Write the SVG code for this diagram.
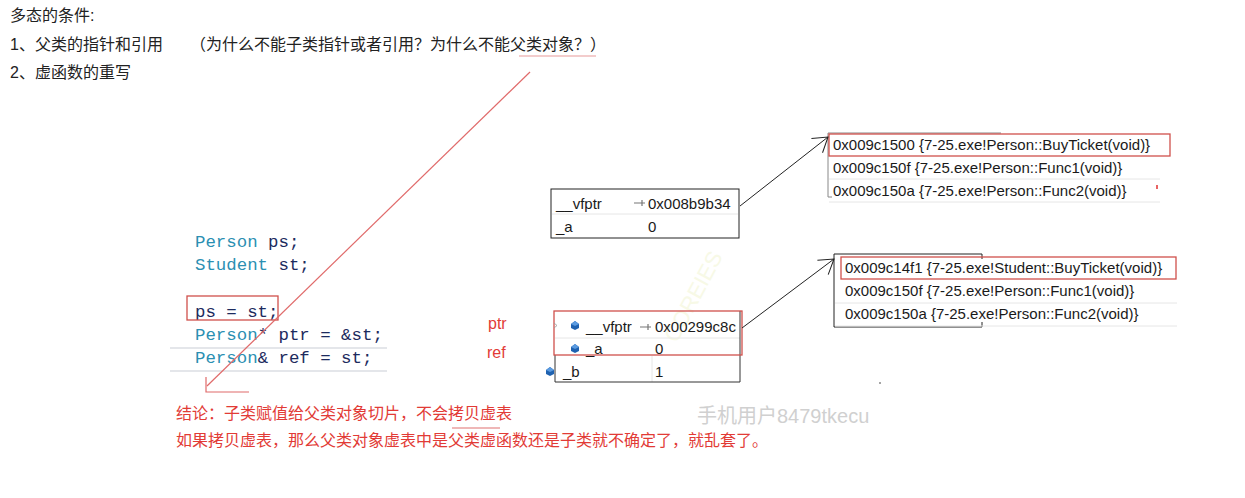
<svg xmlns="http://www.w3.org/2000/svg" width="1245" height="498" viewBox="0 0 1245 498">
<style>
.cn{font-family:"Liberation Sans","Noto Sans CJK SC",sans-serif;font-size:16px;fill:#222}
.red{fill:#e23b36}
.code{font-family:"Liberation Mono",monospace;font-size:17.4px;fill:#1d2b5e;white-space:pre}
.ty{fill:#2b8fb2}
.dbg{font-family:"Liberation Sans","Noto Sans",sans-serif;font-size:15px;fill:#1a1a1a}
.faint{stroke:#e6e6e6;stroke-width:1;fill:none}
.rbox{fill:none;stroke:#d0504c;stroke-width:1.3}
.conn{stroke:#222;stroke-width:1;fill:none}
.redline{stroke:#e06a6a;stroke-width:1.2;fill:none}
</style>
<defs>
<marker id="open" markerUnits="userSpaceOnUse" markerWidth="20" markerHeight="20" refX="0" refY="0" viewBox="-16 -10 18 20" orient="auto">
<path d="M-14,-9 L0,0 L-14,9" fill="none" stroke="#222" stroke-width="1"/>
</marker>
<g id="icon"><path d="M-4,-1 L0,-4 L4,-1 L4,3 L0,5 L-4,3 Z" fill="#1f62b0"/><path d="M-4,-1 L0,-4 L4,-1 L0,1 Z" fill="#5b9be0"/></g>
<g id="pin"><path d="M-6,0 H2 M2,-3 V3 M2,0 H5" stroke="#777" stroke-width="1.2" fill="none"/></g>
</defs>
<rect width="1245" height="498" fill="#fff"/>

<g id="title">
<text class="cn" x="10" y="21">多态的条件:</text>
<text class="cn" x="10" y="50">1、父类的指针和引用</text>
<text class="cn" x="190" y="50">（为什么不能子类指针或者引用？为什么不能父类对象？）</text>
<line x1="519" y1="56" x2="596" y2="56" stroke="#e89a9a" stroke-width="1.2"/>
<text class="cn" x="10" y="78">2、虚函数的重写</text>
</g>

<g id="code">
<line x1="170" y1="348" x2="387" y2="348" stroke="#e4e6ea" stroke-width="2"/>
<line x1="170" y1="371" x2="387" y2="371" stroke="#e4e6ea" stroke-width="2"/>
<text class="code" x="195" y="247"><tspan class="ty">Person</tspan> ps;</text>
<text class="code" x="195" y="270"><tspan class="ty">Student</tspan> st;</text>
<text class="code" x="195" y="317">ps = st;</text>
<text class="code" x="195" y="340"><tspan class="ty">Person</tspan>* ptr = &amp;st;</text>
<text class="code" x="195" y="363"><tspan class="ty">Person</tspan>&amp; ref = st;</text>
<rect class="rbox" x="187" y="296" width="91" height="24"/>
</g>

<g id="watermark">
<text x="700" y="300" transform="rotate(-62 700 300)" font-family="Liberation Sans,sans-serif" font-size="22" fill="#f7f9e6" text-anchor="middle">COREIES</text>
<text x="697" y="423" font-family="Liberation Sans,'Noto Sans CJK SC',sans-serif" font-size="20" fill="#d0d0d0">手机用户8479tkecu</text>
</g>

<g id="person-obj">
<rect x="551" y="189" width="188" height="49" fill="none" stroke="#222" stroke-width="1"/>
<line class="faint" x1="552" y1="214" x2="738" y2="214"/>
<text class="dbg" x="556" y="209">__vfptr</text>
<use href="#pin" x="640" y="203"/>
<text class="dbg" x="648" y="209">0x008b9b34</text>
<text class="dbg" x="556" y="232">_a</text>
<text class="dbg" x="648" y="232">0</text>
</g>

<g id="student-obj">
<line class="faint" x1="555" y1="338" x2="740" y2="338"/>
<line class="faint" x1="652" y1="356" x2="652" y2="382"/>
<path d="M555,355 V382 H740 V311" fill="none" stroke="#333" stroke-width="1"/>
<rect class="rbox" x="554" y="311" width="188" height="44" stroke="#e07070"/>
<path d="M554,323 L557,325.5 L554,328" fill="none" stroke="#999" stroke-width="0.8"/>
<use href="#icon" x="575" y="325"/>
<text class="dbg" x="586" y="332">__vfptr</text>
<use href="#pin" x="646" y="327"/>
<text class="dbg" x="655" y="332">0x00299c8c</text>
<use href="#icon" x="575" y="348"/>
<text class="dbg" x="586" y="354">_a</text>
<text class="dbg" x="655" y="354">0</text>
<use href="#icon" x="550" y="371"/>
<text class="dbg" x="563" y="377">_b</text>
<text class="dbg" x="655" y="377">1</text>
</g>

<g id="vtable-person">
<path d="M1001,133 H828 V197 H832" fill="none" stroke="#888" stroke-width="1"/>
<line class="faint" x1="829" y1="179" x2="1160" y2="179"/>
<line class="faint" x1="829" y1="202" x2="1160" y2="202"/>
<rect class="rbox" x="829" y="134" width="341" height="22"/>
<text class="dbg" x="833" y="150">0x009c1500 {7-25.exe!Person::BuyTicket(void)}</text>
<text class="dbg" x="833" y="173">0x009c150f {7-25.exe!Person::Func1(void)}</text>
<text class="dbg" x="833" y="196">0x009c150a {7-25.exe!Person::Func2(void)}</text>
<line x1="1157" y1="185" x2="1157" y2="189" stroke="#e03030" stroke-width="1.5"/>
</g>

<g id="vtable-student">
<path d="M982,259 V254 H834 V327 H982 V322" fill="none" stroke="#222" stroke-width="1"/>
<line class="faint" x1="835" y1="303" x2="1177" y2="303"/>
<line class="faint" x1="835" y1="326" x2="1177" y2="326"/>
<rect class="rbox" x="841" y="257" width="335" height="22"/>
<text class="dbg" x="845" y="273">0x009c14f1 {7-25.exe!Student::BuyTicket(void)}</text>
<text class="dbg" x="845" y="296">0x009c150f {7-25.exe!Person::Func1(void)}</text>
<text class="dbg" x="845" y="319">0x009c150a {7-25.exe!Person::Func2(void)}</text>
</g>

<g id="labels">
<text class="cn red" x="488" y="329">ptr</text>
<text class="cn red" x="487" y="358">ref</text>
</g>

<g id="conclusion">
<text class="cn red" x="176" y="419">结论：子类赋值给父类对象切片，不会拷贝虚表</text>
<line x1="452" y1="428" x2="500" y2="428" stroke="#e07070" stroke-width="1.2"/>
<text class="cn red" x="176" y="446">如果拷贝虚表，那么父类对象虚表中是父类虚函数还是子类就不确定了，就乱套了。</text>
</g>

<g id="connectors">
<line class="conn" x1="740" y1="206" x2="828" y2="137" marker-end="url(#open)"/>
<line class="conn" x1="742" y1="328" x2="834" y2="259" marker-end="url(#open)"/>
<line class="redline" x1="530" y1="72" x2="207" y2="386"/>
<path class="redline" d="M206,377 V392 H249"/>
<circle cx="880" cy="383" r="0.8" fill="#333"/>
</g>
</svg>
